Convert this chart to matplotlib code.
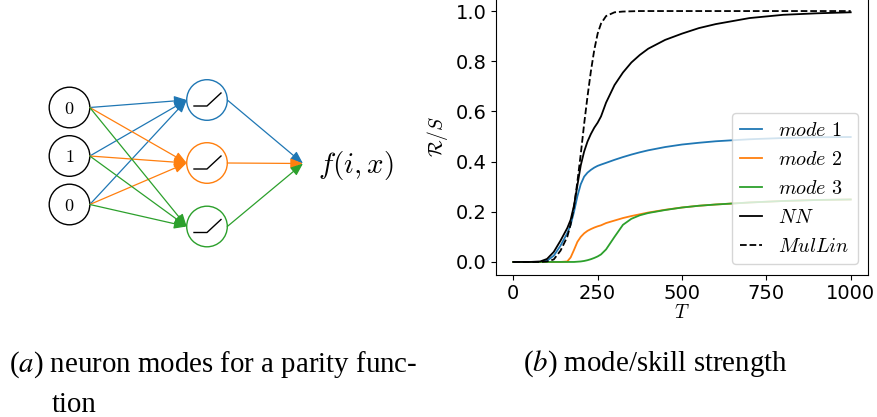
import matplotlib
matplotlib.use("Agg")
import matplotlib.pyplot as plt
from matplotlib.patches import Circle, FancyArrowPatch

plt.rcParams['mathtext.fontset'] = 'cm'

# ---- data ----
T = [0, 50, 80, 100, 120, 140, 160, 170, 180, 190, 200, 210, 220, 230, 240,
     250, 260, 275, 300, 325, 350, 375, 400, 450, 500, 550, 600, 700, 800,
     900, 1000]
nn = [0.0, 0.0, 0.002, 0.012, 0.04, 0.085, 0.135, 0.168, 0.225, 0.305, 0.385,
      0.44, 0.48, 0.51, 0.535, 0.555, 0.58, 0.635, 0.705, 0.755, 0.795, 0.825,
      0.85, 0.885, 0.91, 0.932, 0.948, 0.972, 0.985, 0.991, 0.995]
mullin = [0.0, 0.0, 0.0, 0.002, 0.01, 0.045, 0.1, 0.15, 0.22, 0.32, 0.43,
          0.55, 0.66, 0.76, 0.845, 0.91, 0.95, 0.98, 0.995, 0.998, 0.999, 1.0,
          1.0, 1.0, 1.0, 1.0, 1.0, 1.0, 1.0, 1.0, 1.0]
mode1 = [0.0, 0.0, 0.0, 0.005, 0.025, 0.065, 0.115, 0.148, 0.2, 0.262, 0.31,
         0.34, 0.356, 0.367, 0.376, 0.383, 0.388, 0.395, 0.407, 0.418, 0.428,
         0.437, 0.445, 0.458, 0.468, 0.475, 0.481, 0.489, 0.494, 0.497, 0.498]
mode2 = [0.0, 0.0, 0.0, 0.0, 0.0, 0.0, 0.002, 0.018, 0.048, 0.08, 0.1, 0.114,
         0.124, 0.131, 0.137, 0.142, 0.146, 0.155, 0.165, 0.175, 0.183, 0.19,
         0.197, 0.208, 0.217, 0.224, 0.229, 0.237, 0.243, 0.247, 0.249]
mode3 = [0.0, 0.0, 0.0, 0.0, 0.0, 0.0, 0.0, 0.0, 0.0, 0.001, 0.002, 0.004,
         0.007, 0.011, 0.016, 0.022, 0.03, 0.05, 0.1, 0.148, 0.172, 0.186,
         0.195, 0.207, 0.217, 0.224, 0.229, 0.237, 0.243, 0.247, 0.249]
series_labels = [r'$mode\ 1$', r'$mode\ 2$', r'$mode\ 3$', r'$NN$', r'$MulLin$']
mode_colors = ['#1f77b4', '#ff7f0e', '#2ca02c']

inputs = ['0', '1', '0']

fig = plt.figure(figsize=(8.78, 4.17), dpi=100)

# ---- (a) network diagram, drawn in pixel units ----
ax0 = fig.add_axes([0, 0, 1, 1])
ax0.set_xlim(0, 878)
ax0.set_ylim(417, 0)
ax0.set_axis_off()

in_x, hid_x, r = 69.5, 207, 20.3
in_y = [107.5, 156, 204.5]
hid_y = [100, 163, 226.5]
out_pt = (303, 163.5)

def arrow(p, q, c):
    ax0.add_patch(FancyArrowPatch(p, q, arrowstyle='-|>,head_length=0.75,head_width=0.3',
                                  mutation_scale=10, color=c, lw=0.9,
                                  shrinkA=0, shrinkB=0))

for y, v in zip(in_y, inputs):
    ax0.add_patch(Circle((in_x, y), r, fill=False, ec='black', lw=1.0))
    ax0.text(in_x, y + 1, '$' + v + '$', ha='center', va='center', fontsize=13)
for hy, c in zip(hid_y, mode_colors):
    for y in in_y:
        arrow((in_x + r, y), (hid_x - r, hy), c)
for hy, c in zip(hid_y, mode_colors):
    ax0.add_patch(Circle((hid_x, hy), r, fill=False, ec=c, lw=1.0))
    ax0.plot([hid_x - 13, hid_x, hid_x + 14], [hy + 6, hy + 6, hy - 7],
             color='black', lw=1.0)
    arrow((hid_x + r, hy), out_pt, c)
ax0.text(318, 165, r'$f(i,x)$', ha='left', va='center', fontsize=21)

# captions
cap = dict(family='Liberation Serif', fontsize=20.8, va='baseline', math_fontfamily='stix')
ax0.text(9, 372, r'($\mathit{a}$) neuron modes for a parity func-', **cap)
ax0.text(52, 412, 'tion', **cap)
ax0.text(523, 371, r'($\mathit{b}$) mode/skill strength', **cap)

# ---- (b) mode strength plot ----
ax = fig.add_axes([496.4 / 878, 1 - 274.5 / 417, 371.2 / 878, 276 / 417])
ax.plot(T, mode1, color=mode_colors[0], lw=1.3, label=series_labels[0])
ax.plot(T, mode2, color=mode_colors[1], lw=1.3, label=series_labels[1])
ax.plot(T, mode3, color=mode_colors[2], lw=1.3, label=series_labels[2])
ax.plot(T, nn, color='black', lw=1.3, label=series_labels[3])
ax.plot(T, mullin, color='black', ls='--', lw=1.3, label=series_labels[4])
ax.set_xlim(-50, 1050)
ax.set_ylim(-0.05, 1.05)
ax.set_xticks([0, 250, 500, 750, 1000])
ax.set_yticks([0.0, 0.2, 0.4, 0.6, 0.8, 1.0])
ax.tick_params(labelsize=14)
ax.set_xlabel(r'$T$', fontsize=14, labelpad=0)
ax.set_ylabel(r'$\mathcal{R}/S$', fontsize=14)
ax.legend(loc='lower right', fontsize=14.5, handlelength=1.1)

fig.savefig('out.png', dpi=100)
